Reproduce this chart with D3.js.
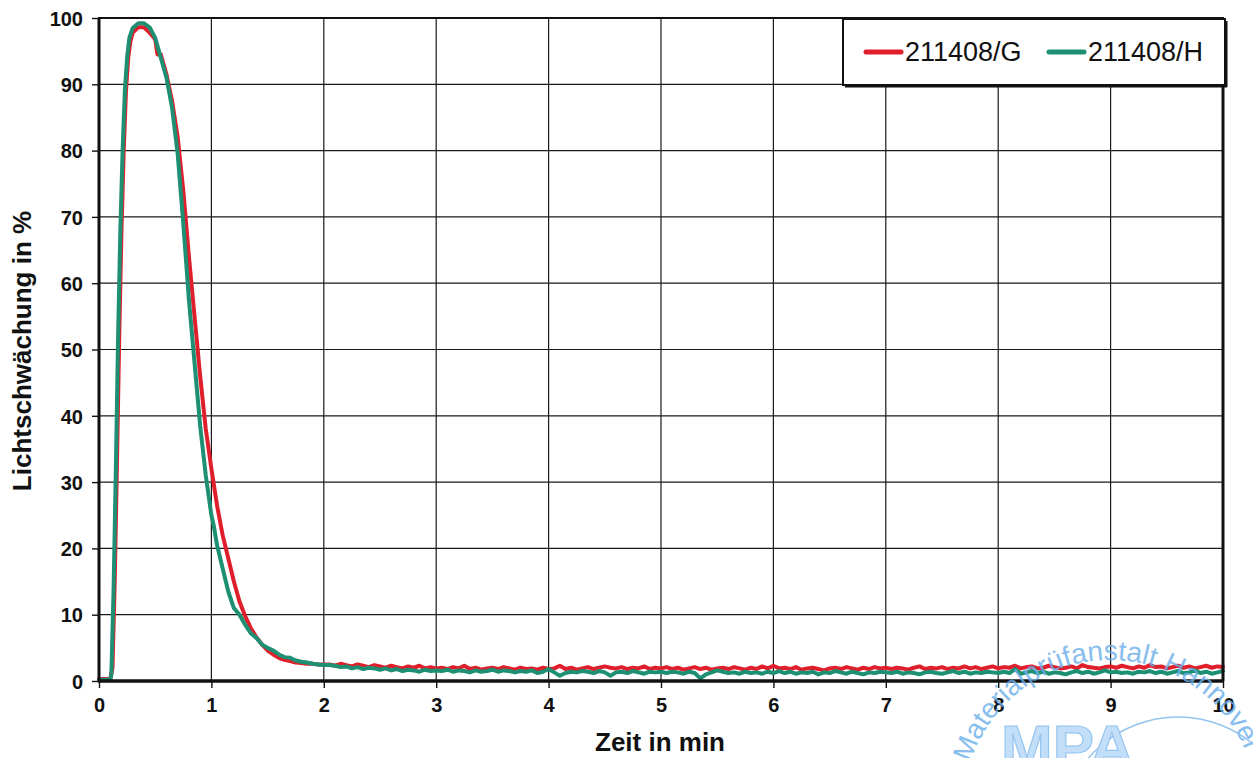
<!DOCTYPE html>
<html>
<head>
<meta charset="utf-8">
<script src="https://cdn.jsdelivr.net/npm/d3@7"></script>
<style>
  html, body { margin: 0; padding: 0; background: #fff; }
  svg { display: block; }
  text { font-family: "Liberation Sans", Arial, sans-serif; }
</style>
</head>
<body>
<svg id="chart" width="1253" height="758"></svg>
<script>
// ---- data -------------------------------------------------------------
const seriesNames = ["211408/G", "211408/H"];
const seriesColors = ["#e01f2d", "#1d8f72"];

// peak phase, time in min
const peakTimeG = [0, 0.05, 0.1, 0.12, 0.14, 0.16, 0.18, 0.2, 0.22, 0.24, 0.26, 0.28, 0.3, 0.35, 0.4, 0.45, 0.5, 0.52, 0.55, 0.6, 0.65, 0.7, 0.75, 0.8, 0.85, 0.9, 0.95, 1.0, 1.05, 1.1, 1.15, 1.2, 1.25, 1.3, 1.35, 1.4, 1.45, 1.5, 1.55, 1.6, 1.65, 1.7, 1.75, 1.8, 1.85, 1.9, 1.95, 2.0];
const peakValueG = [0.3, 0.3, 0.3, 2, 15, 33, 52, 68, 80, 89, 94, 96.5, 97.8, 98.6, 98.6, 97.8, 96.8, 94.5, 94.5, 91.5, 87.5, 82, 74, 64, 55, 46, 38, 32, 26.5, 22, 18.5, 15, 12, 9.8, 8, 6.6, 5.5, 4.6, 4.0, 3.5, 3.2, 3.0, 2.8, 2.7, 2.6, 2.6, 2.5, 2.5];

const peakTimeH = [0, 0.05, 0.1, 0.11, 0.13, 0.15, 0.17, 0.19, 0.21, 0.23, 0.25, 0.27, 0.3, 0.35, 0.4, 0.45, 0.5, 0.55, 0.6, 0.65, 0.7, 0.75, 0.8, 0.85, 0.9, 0.95, 1.0, 1.02, 1.05, 1.1, 1.15, 1.2, 1.25, 1.3, 1.35, 1.4, 1.45, 1.5, 1.55, 1.6, 1.65, 1.7, 1.75, 1.8, 1.85, 1.9, 1.95, 2.0];
const peakValueH = [0.2, 0.2, 0.2, 1, 14, 32, 52, 68, 80, 89, 94, 97, 98.5, 99.2, 99.2, 98.6, 97, 94, 91, 86.5, 79.5, 69, 57.5, 48, 38.5, 31, 25, 23.5, 20.5, 17, 13.5, 11, 10, 8.5, 7.2, 6.5, 5.5, 5.0, 4.6, 4.0, 3.6, 3.5, 3.1, 2.9, 2.8, 2.6, 2.5, 2.4];

// plateau phase, logged every 0.05 min from 2.05 to 10 min
const tailStart = 2.05;
const tailStep = 0.05;
const tailValueG = [
  2.5, 2.3, 2.6, 2.4, 2.2, 2.5, 2.3, 2.1, 2.4, 2.2, 2.0, 2.3, 2.1, 1.9, 2.2, 2.0, 2.3, 1.9, 2.1, 1.9,
  2.0, 1.8, 2.1, 1.9, 2.3, 1.8, 2.0, 1.7, 1.9, 2.0, 1.8, 2.1, 1.9, 1.7, 2.0, 1.8, 1.9, 1.7, 2.0, 1.8,
  1.9, 2.3, 1.8, 2.0, 1.7, 1.9, 2.1, 1.8, 2.0, 2.2, 2.0, 1.9, 2.1, 1.8, 2.0, 1.9, 2.2, 1.8, 2.0, 1.9,
  2.1, 1.8, 2.0, 1.7, 1.9, 2.1, 1.8, 2.0, 1.7, 1.9, 2.0, 1.8, 2.1, 1.9, 1.7, 2.0, 1.8, 2.2, 1.9, 2.3,
  1.9, 2.0, 1.8, 2.1, 1.7, 1.9, 2.0, 1.8, 1.6, 1.9, 2.0, 1.8, 2.1, 1.9, 1.7, 2.0, 1.8, 2.1, 1.9, 2.0,
  1.8, 2.0, 1.9, 1.7, 2.0, 2.2, 1.8, 2.0, 1.9, 2.1, 1.8, 2.0, 1.9, 2.2, 1.9, 2.1, 1.8, 2.0, 2.2, 1.9,
  2.1, 2.0, 2.3, 1.9, 2.1, 2.2, 1.9, 2.0, 2.3, 2.1, 1.9, 2.0, 2.2, 1.9, 2.4, 2.1, 2.0, 1.9, 2.1, 2.2,
  2.0, 2.3, 2.1, 1.9, 2.2, 2.0, 2.4, 2.1, 2.2, 1.9, 2.1, 2.3, 2.0, 2.2, 1.9, 2.1, 2.3, 2.0, 2.2, 2.1
];
const tailValueH = [
  2.4, 2.3, 2.1, 2.2, 1.9, 2.1, 1.8, 2.0, 1.9, 1.7, 1.9, 1.6, 1.8, 1.5, 1.7, 1.6, 1.4, 1.7, 1.5, 1.6,
  1.5, 1.7, 1.4, 1.6, 1.5, 1.3, 1.6, 1.4, 1.5, 1.7, 1.4, 1.6, 1.5, 1.3, 1.5, 1.4, 1.6, 1.2, 1.4, 1.8,
  1.3, 0.8, 1.2, 1.4, 1.3, 1.5, 1.4, 1.2, 1.5, 1.3, 0.8, 1.3, 1.4, 1.2, 1.5, 1.3, 1.1, 1.4, 1.3, 1.4,
  1.2, 1.4, 1.3, 1.1, 1.4, 1.2, 0.4, 1.0, 1.3, 1.6, 1.4, 1.2, 1.3, 1.1, 1.4, 1.2, 1.3, 1.1, 1.4, 1.2,
  1.5, 1.2, 1.4, 1.1, 1.3, 1.2, 1.4, 1.0, 1.3, 1.2, 1.5, 1.3, 1.1, 1.4, 1.2, 1.0, 1.3, 1.2, 1.4, 1.3,
  1.2, 1.4, 1.1, 1.3, 1.2, 1.0, 1.3, 1.4, 1.2, 1.1, 1.3, 1.5, 1.2, 1.4, 1.1, 1.3, 1.2, 1.4, 1.3, 1.2,
  1.4, 1.2, 1.8, 1.1, 1.3, 1.5, 1.2, 1.4, 1.1, 1.3, 1.2, 1.0, 1.3, 1.5, 1.2, 1.4, 1.1, 1.3, 1.6, 1.3,
  1.4, 1.2, 1.3, 1.1, 1.4, 1.3, 1.5, 1.2, 1.4, 1.1, 1.3, 1.5, 1.2, 1.3, 1.6, 1.2, 1.4, 1.1, 1.3, 1.5
];

const xTicks = [0, 1, 2, 3, 4, 5, 6, 7, 8, 9, 10];
const yTicks = [0, 10, 20, 30, 40, 50, 60, 70, 80, 90, 100];
const xTitle = "Zeit in min";
const yTitle = "Lichtschwächung in %";

// ---- assemble point lists --------------------------------------------
function buildSeries(pt, pv, tail) {
  const pts = pt.map((t, i) => [t, pv[i]]);
  tail.forEach((v, i) => pts.push([+(tailStart + i * tailStep).toFixed(2), v]));
  return pts;
}
const series = [
  buildSeries(peakTimeG, peakValueG, tailValueG),
  buildSeries(peakTimeH, peakValueH, tailValueH)
];

// ---- layout ----------------------------------------------------------
const svg = d3.select("#chart");
const L = 99, R = 1223, T = 18, B = 681;

const x = d3.scaleLinear().domain([0, 10]).range([L, R]);
const y = d3.scaleLinear().domain([0, 100]).range([B, T]);

// grid
const grid = svg.append("g").attr("stroke", "#1a1a1a").attr("stroke-width", 1.2);
grid.selectAll("line.v").data(xTicks.slice(1, -1)).join("line")
  .attr("x1", d => x(d)).attr("x2", d => x(d)).attr("y1", T).attr("y2", B);
grid.selectAll("line.h").data(yTicks.slice(1, -1)).join("line")
  .attr("y1", d => y(d)).attr("y2", d => y(d)).attr("x1", L).attr("x2", R);

// axes
const xAxis = d3.axisBottom(x).tickValues(xTicks).tickSize(7).tickPadding(10).tickFormat(d3.format("d"));
const yAxis = d3.axisLeft(y).tickValues(yTicks).tickSize(7).tickPadding(9).tickFormat(d3.format("d"));

const gx = svg.append("g").attr("transform", `translate(0,${B})`).call(xAxis);
const gy = svg.append("g").attr("transform", `translate(${L},0)`).call(yAxis);
[gx, gy].forEach(g => {
  g.select(".domain").remove();
  g.selectAll(".tick line").attr("stroke", "#111").attr("stroke-width", 1.4);
  g.selectAll(".tick text").attr("fill", "#111")
    .style("font-size", "20px").style("font-weight", "bold")
    .style("font-family", "'Liberation Sans', Arial, sans-serif");
});
gy.selectAll(".tick text").attr("dy", "0.36em");

// lines
const line = d3.line().x(d => x(d[0])).y(d => y(d[1])).curve(d3.curveLinear);
const plot = svg.append("g");
series.forEach((s, i) => {
  plot.append("path").datum(s)
    .attr("fill", "none")
    .attr("stroke", seriesColors[i])
    .attr("stroke-width", 4)
    .attr("stroke-linejoin", "round")
    .attr("stroke-linecap", "round")
    .attr("d", line);
});

// plot frame
svg.append("rect").attr("x", L).attr("y", T).attr("width", R - L).attr("height", B - T)
  .attr("fill", "none").attr("stroke", "#111").attr("stroke-width", 2);
svg.append("line").attr("x1", L).attr("x2", L).attr("y1", T).attr("y2", B + 1)
  .attr("stroke", "#111").attr("stroke-width", 3);
svg.append("line").attr("x1", L - 1).attr("x2", R + 1).attr("y1", B).attr("y2", B)
  .attr("stroke", "#111").attr("stroke-width", 3.5);
svg.append("line").attr("x1", R).attr("x2", R).attr("y1", T).attr("y2", B)
  .attr("stroke", "#111").attr("stroke-width", 3);

// titles
svg.append("text").attr("x", 660).attr("y", 751)
  .attr("text-anchor", "middle").attr("fill", "#111")
  .style("font-size", "26px").style("font-weight", "bold").text(xTitle);
svg.append("text").attr("transform", "translate(31,351) rotate(-90)")
  .attr("text-anchor", "middle").attr("fill", "#111")
  .style("font-size", "26px").style("font-weight", "bold").text(yTitle);

// legend
const lg = svg.append("g");
lg.append("rect").attr("x", 843).attr("y", 19).attr("width", 382).attr("height", 66)
  .attr("fill", "#fff").attr("stroke", "#111").attr("stroke-width", 2);
lg.append("line").attr("x1", 1226).attr("x2", 1226).attr("y1", 21).attr("y2", 87)
  .attr("stroke", "#111").attr("stroke-width", 3);
lg.append("line").attr("x1", 845).attr("x2", 1227).attr("y1", 86).attr("y2", 86)
  .attr("stroke", "#111").attr("stroke-width", 3);
const legendX = [866, 1049];
seriesNames.forEach((name, i) => {
  lg.append("line").attr("x1", legendX[i]).attr("x2", legendX[i] + 35)
    .attr("y1", 52).attr("y2", 52)
    .attr("stroke", seriesColors[i]).attr("stroke-width", 5).attr("stroke-linecap", "round");
  lg.append("text").attr("x", legendX[i] + 39).attr("y", 61)
    .attr("fill", "#111").style("font-size", "27px").text(name);
});

// inspection stamp (partly off the sheet)
const stamp = svg.append("g").attr("fill", "none").attr("opacity", 0.8);
const sc = [1110, 806], sr = 146;
const a0 = 14 * Math.PI / 180, a1 = 176 * Math.PI / 180;
stamp.append("path").attr("id", "stampArc")
  .attr("d", `M ${sc[0] - sr * Math.cos(a0)} ${sc[1] - sr * Math.sin(a0)} A ${sr} ${sr} 0 0 1 ${sc[0] - sr * Math.cos(a1)} ${sc[1] - sr * Math.sin(a1)}`);
stamp.append("text").attr("fill", "#6aaeea").style("font-size", "28px")
  .append("textPath").attr("href", "#stampArc").attr("startOffset", "2%")
  .text("Materialprüfanstalt Hannover");
stamp.append("circle").attr("cx", 1178).attr("cy", 835).attr("r", 118)
  .attr("stroke", "#7ab7ee").attr("stroke-width", 1.5);
stamp.append("text").attr("x", 1001).attr("y", 768)
  .attr("fill", "#b5d7f7").attr("stroke", "#7ab7ee").attr("stroke-width", 1.2)
  .style("font-size", "62px").style("font-weight", "bold").text("MPA");
</script>
</body>
</html>
